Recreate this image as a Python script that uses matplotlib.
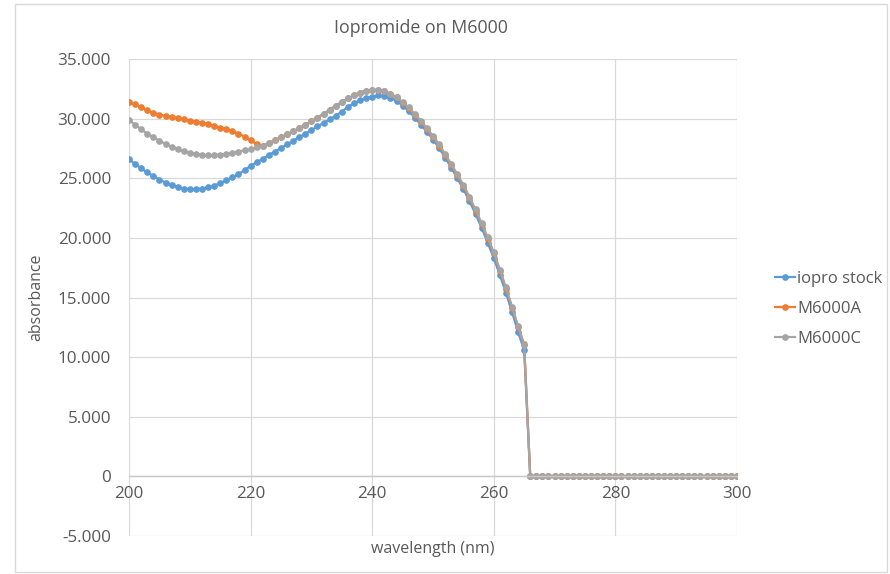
import numpy as np
import matplotlib
matplotlib.use("Agg")
import matplotlib.pyplot as plt
from matplotlib.ticker import FuncFormatter, MultipleLocator
from matplotlib.patches import Rectangle

wavelength = list(range(200, 301))

iopro_stock = [
    26.6, 26.2, 25.85, 25.5, 25.2, 24.9, 24.65, 24.45, 24.3, 24.15,
    24.1, 24.1, 24.15, 24.25, 24.4, 24.6, 24.85, 25.1, 25.35, 25.7,
    26.05, 26.35, 26.65, 26.95, 27.25, 27.55, 27.85, 28.15, 28.45, 28.75,
    29.05, 29.35, 29.65, 29.95, 30.25, 30.6, 31.0, 31.3, 31.55, 31.75,
    31.85, 31.95, 31.9, 31.75, 31.5, 31.1, 30.65, 30.1, 29.5, 28.9,
    28.25, 27.55, 26.75, 25.9, 25.0, 24.1, 23.1, 22.0, 20.85, 19.6,
    18.3, 16.9, 15.4, 13.8, 12.1, 10.6,
    0, 0, 0, 0, 0, 0, 0, 0, 0, 0, 0, 0, 0, 0, 0, 0, 0, 0, 0, 0,
    0, 0, 0, 0, 0, 0, 0, 0, 0, 0, 0, 0, 0, 0, 0,
]

m6000a = [
    31.4, 31.2, 30.95, 30.7, 30.5, 30.35, 30.25, 30.15, 30.05, 29.95,
    29.85, 29.75, 29.65, 29.55, 29.4, 29.25, 29.1, 28.95, 28.75, 28.5,
    28.2, 27.85, 27.75, 27.95, 28.2, 28.45, 28.7, 28.95, 29.2, 29.5,
    29.8, 30.1, 30.4, 30.75, 31.1, 31.4, 31.7, 31.95, 32.2, 32.35,
    32.4, 32.4, 32.3, 32.1, 31.8, 31.35, 30.9, 30.3, 29.75, 29.1,
    28.45, 27.75, 26.95, 26.1, 25.25, 24.35, 23.35, 22.3, 21.15, 19.95,
    18.7, 17.25, 15.75, 14.15, 12.55, 11.1,
    0, 0, 0, 0, 0, 0, 0, 0, 0, 0, 0, 0, 0, 0, 0, 0, 0, 0, 0, 0,
    0, 0, 0, 0, 0, 0, 0, 0, 0, 0, 0, 0, 0, 0, 0,
]

m6000c = [
    29.9, 29.5, 29.1, 28.75, 28.45, 28.15, 27.9, 27.65, 27.45, 27.3,
    27.15, 27.05, 26.95, 26.95, 26.95, 27.0, 27.05, 27.15, 27.25, 27.35,
    27.45, 27.6, 27.75, 27.95, 28.2, 28.45, 28.7, 28.95, 29.2, 29.5,
    29.8, 30.1, 30.4, 30.75, 31.1, 31.4, 31.7, 31.95, 32.2, 32.35,
    32.4, 32.4, 32.3, 32.1, 31.8, 31.4, 30.95, 30.4, 29.85, 29.2,
    28.55, 27.85, 27.05, 26.2, 25.35, 24.45, 23.45, 22.4, 21.25, 20.05,
    18.8, 17.35, 15.85, 14.25, 12.6, 11.0,
    0, 0, 0, 0, 0, 0, 0, 0, 0, 0, 0, 0, 0, 0, 0, 0, 0, 0, 0, 0,
    0, 0, 0, 0, 0, 0, 0, 0, 0, 0, 0, 0, 0, 0, 0,
]

series = [
    ("iopro stock", iopro_stock, "#5B9BD5"),
    ("M6000A", m6000a, "#ED7D31"),
    ("M6000C", m6000c, "#A5A5A5"),
]

text_col = "#595959"
plt.rcParams["font.family"] = ["Open Sans", "DejaVu Sans"]

fig = plt.figure(figsize=(8.9, 5.74), dpi=100)
ax = fig.add_axes([0.145, 0.066, 0.683, 0.831])

for name, vals, col in series:
    ax.plot(wavelength, vals, color=col, lw=1.6, marker="o", markersize=3.8,
            label=name)

ax.set_xlim(200, 300)
ax.set_ylim(-5, 35)
ax.xaxis.set_major_locator(MultipleLocator(20))
ax.yaxis.set_major_locator(MultipleLocator(5))
ax.yaxis.set_major_formatter(FuncFormatter(lambda v, p: "0" if abs(v) < 1e-9 else f"{v:.3f}"))
ax.grid(True, color="#D9D9D9", lw=0.9)
ax.set_axisbelow(True)

for s in ["top", "right", "left"]:
    ax.spines[s].set_visible(False)
ax.spines["bottom"].set_position(("data", 0))
ax.spines["bottom"].set_color("#C8C8C8")
ax.spines["bottom"].set_linewidth(1.0)

ax.tick_params(length=0, labelsize=12.3, labelcolor=text_col)
ax.tick_params(axis="x", pad=7)
ax.tick_params(axis="y", pad=13)

ax.set_xlabel("wavelength (nm)", fontsize=11.5, color=text_col)
ax.xaxis.set_label_coords(0.5, -0.01)
ax.set_ylabel("absorbance", fontsize=11.5, color=text_col)
ax.yaxis.set_label_coords(-0.14, 0.5)

fig.text(0.473, 0.952, "Iopromide on M6000", ha="center", va="center",
         fontsize=12.8, color=text_col)

fig.legend(loc="center left", bbox_to_anchor=(0.858, 0.462), frameon=False,
           fontsize=12, labelcolor=text_col, handlelength=1.2,
           handletextpad=0.1, labelspacing=0.85, borderpad=0.2)

fig.patches.append(Rectangle((15 / 890, 1 - 572 / 574), 872 / 890, 568 / 574,
                             transform=fig.transFigure, fill=False,
                             edgecolor="#D9D9D9", lw=1.0))

fig.savefig("out.png", dpi=100)
